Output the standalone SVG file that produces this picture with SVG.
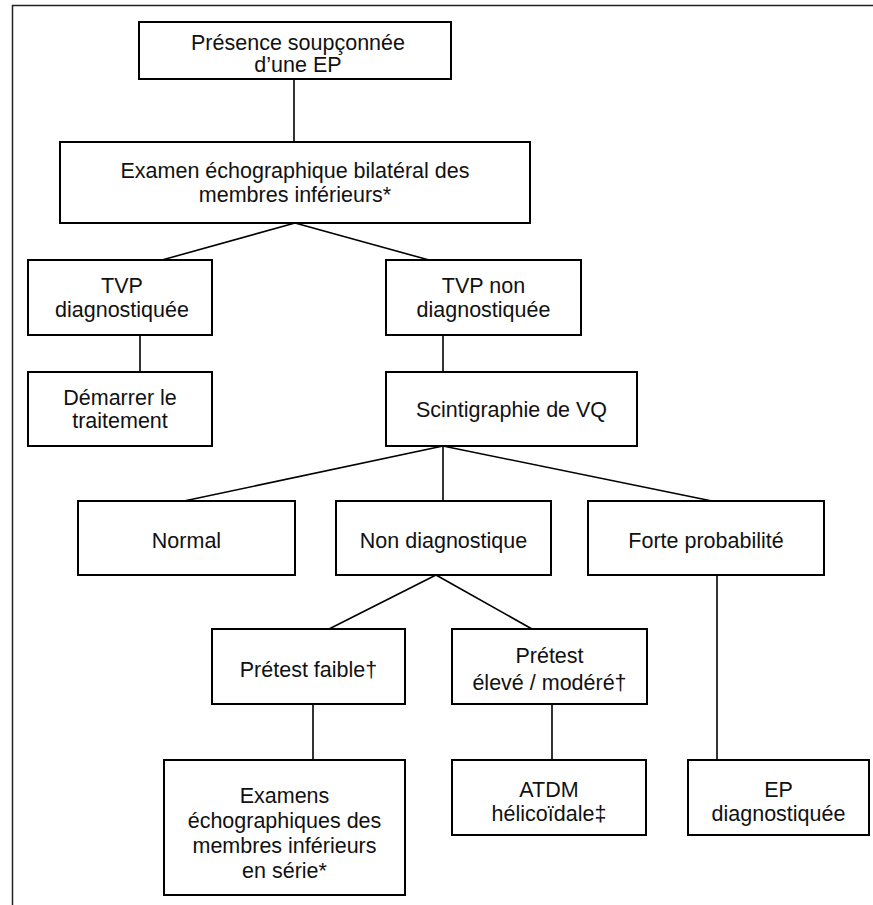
<svg xmlns="http://www.w3.org/2000/svg" width="873" height="905" viewBox="0 0 873 905">
<style>
.box{fill:#fff;stroke:#000;stroke-width:2}
.t{font-family:"Liberation Sans",Arial,sans-serif;font-size:21.5px;fill:#111;text-anchor:middle}
.c{stroke:#000;stroke-width:1.6;fill:none}
.frame{stroke:#222;stroke-width:1.5;fill:none}
</style>
<rect width="873" height="905" fill="#fff"/>
<path class="frame" d="M12.5,905 V5.5 H873"/>
<g id="connectors">
<line class="c" x1="294" y1="79" x2="294" y2="142"/>
<line class="c" x1="295" y1="223" x2="162" y2="260"/>
<line class="c" x1="295" y1="223" x2="429" y2="260"/>
<line class="c" x1="140" y1="335" x2="140" y2="372"/>
<line class="c" x1="443" y1="335" x2="443" y2="372"/>
<line class="c" x1="443" y1="446" x2="184" y2="501"/>
<line class="c" x1="443" y1="446" x2="443" y2="501"/>
<line class="c" x1="443" y1="446" x2="712" y2="501"/>
<line class="c" x1="436" y1="575" x2="329" y2="629"/>
<line class="c" x1="436" y1="575" x2="532" y2="629"/>
<line class="c" x1="313" y1="704" x2="313" y2="760"/>
<line class="c" x1="552" y1="704" x2="552" y2="760"/>
<line class="c" x1="717" y1="575" x2="717" y2="760"/>
</g>
<g id="n1"><rect class="box" x="139" y="22" width="312" height="57"/>
<text class="t" x="298" y="50">Présence soupçonnée</text>
<text class="t" x="298" y="72">d’une EP</text></g>
<g id="n2"><rect class="box" x="60" y="142" width="470" height="81"/>
<text class="t" x="295" y="177.5">Examen échographique bilatéral des</text>
<text class="t" x="295" y="201.5">membres inférieurs*</text></g>
<g id="n3"><rect class="box" x="28" y="260" width="184" height="75"/>
<text class="t" x="122" y="292.5">TVP</text>
<text class="t" x="122" y="317">diagnostiquée</text></g>
<g id="n4"><rect class="box" x="386" y="260" width="195" height="75"/>
<text class="t" x="483.5" y="292.5">TVP non</text>
<text class="t" x="483.5" y="317">diagnostiquée</text></g>
<g id="n5"><rect class="box" x="28" y="372" width="184" height="74"/>
<text class="t" x="120" y="404.5">Démarrer le</text>
<text class="t" x="120" y="428">traitement</text></g>
<g id="n6"><rect class="box" x="386" y="372" width="251" height="74"/>
<text class="t" x="511.5" y="416.5">Scintigraphie de VQ</text></g>
<g id="n7"><rect class="box" x="78" y="501" width="217" height="74"/>
<text class="t" x="186.5" y="547.5">Normal</text></g>
<g id="n8"><rect class="box" x="336" y="501" width="215" height="74"/>
<text class="t" x="443.5" y="547.5">Non diagnostique</text></g>
<g id="n9"><rect class="box" x="588" y="501" width="236" height="74"/>
<text class="t" x="706" y="547.5">Forte probabilité</text></g>
<g id="n10"><rect class="box" x="212" y="629" width="193" height="75"/>
<text class="t" x="308.5" y="676.5">Prétest faible†</text></g>
<g id="n11"><rect class="box" x="452" y="629" width="195" height="75"/>
<text class="t" x="549.5" y="662.5">Prétest</text>
<text class="t" x="549.5" y="689.5">élevé / modéré†</text></g>
<g id="n12"><rect class="box" x="164" y="760" width="241" height="135"/>
<text class="t" x="284.5" y="802.5">Examens</text>
<text class="t" x="284.5" y="827.5">échographiques des</text>
<text class="t" x="284.5" y="853">membres inférieurs</text>
<text class="t" x="284.5" y="877.5">en série*</text></g>
<g id="n13"><rect class="box" x="452" y="760" width="194" height="75"/>
<text class="t" x="549" y="796.5">ATDM</text>
<text class="t" x="549" y="820.5">hélicoïdale‡</text></g>
<g id="n14"><rect class="box" x="688" y="760" width="181" height="75"/>
<text class="t" x="778.5" y="796.5">EP</text>
<text class="t" x="778.5" y="820.5">diagnostiquée</text></g>
</svg>
